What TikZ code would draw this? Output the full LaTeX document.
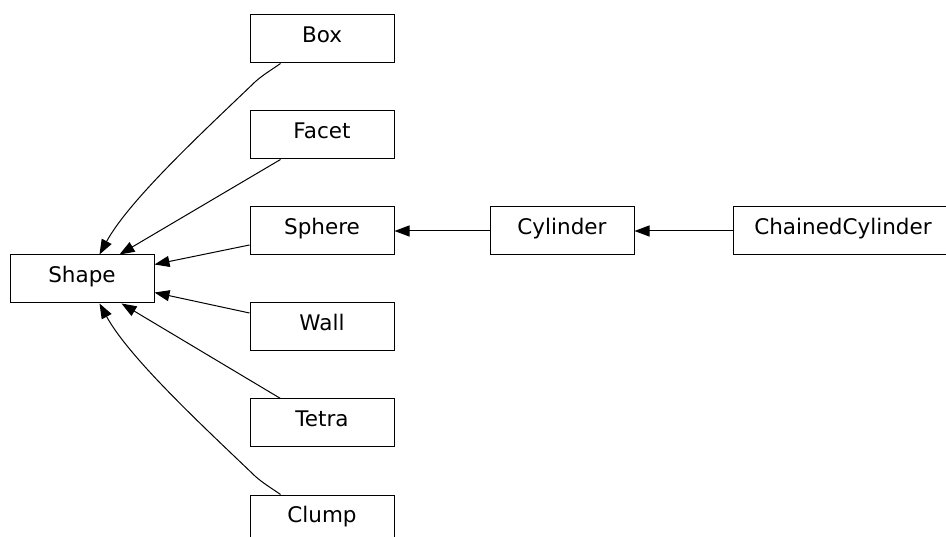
\documentclass[tikz,border=0pt]{standalone}
\usepackage{fontspec}
\setmainfont{DejaVu Sans}
\usetikzlibrary{arrows.meta}
\begin{document}
\begin{tikzpicture}[x=1pt,y=-1pt,
  cls/.style={draw, line width=1pt, minimum width=144pt, minimum height=48pt, inner sep=0pt,
    font=\fontsize{21.5pt}{24pt}\selectfont, text height=0.73em, text depth=0.1em},
  inh/.style={line width=1pt, -{Triangle[length=15pt,width=11pt]}}]
\useasboundingbox (0,0) rectangle (946,537);
\begin{scope}
\clip (0,0) rectangle (946,537);
\node[cls] (Shape)  at (82,279)  {Shape};
\node[cls] (Box)    at (322,39)  {Box};
\node[cls] (Facet)  at (322,135) {Facet};
\node[cls] (Sphere) at (322,231) {Sphere};
\node[cls] (Wall)   at (322,327) {Wall};
\node[cls] (Tetra)  at (322,423) {Tetra};
\node[cls] (Clump)  at (322,519) {Clump};
\node[cls] (Cylinder) at (562,231) {Cylinder};
\node[cls, minimum width=220pt] (Chained) at (843,231) {ChainedCylinder};

\draw[inh] ([xshift=31pt]Box.south west) .. controls +(-10,7) and +(8,-7) .. ++(-25,18)
  .. controls +(-50,48) and +(30,-55) .. ([xshift=90pt]Shape.north west);
\draw[inh] ([xshift=31pt]Facet.south west) -- ([xshift=110pt]Shape.north west);
\draw[inh] ([yshift=-14pt]Sphere.west) -- ([yshift=-10pt]Shape.north east);
\draw[inh] ([yshift=14pt]Wall.west) -- ([yshift=11pt]Shape.south east);
\draw[inh] ([xshift=31pt]Tetra.north west) -- ([xshift=112pt]Shape.south west);
\draw[inh] ([xshift=31pt]Clump.north west) .. controls +(-10,-7) and +(8,7) .. ++(-25,-18)
  .. controls +(-50,-48) and +(30,55) .. ([xshift=90pt]Shape.south west);
\draw[inh] (Cylinder.west) -- (Sphere.east);
\draw[inh] (Chained.west) -- (Cylinder.east);
\end{scope}
\end{tikzpicture}
\end{document}
